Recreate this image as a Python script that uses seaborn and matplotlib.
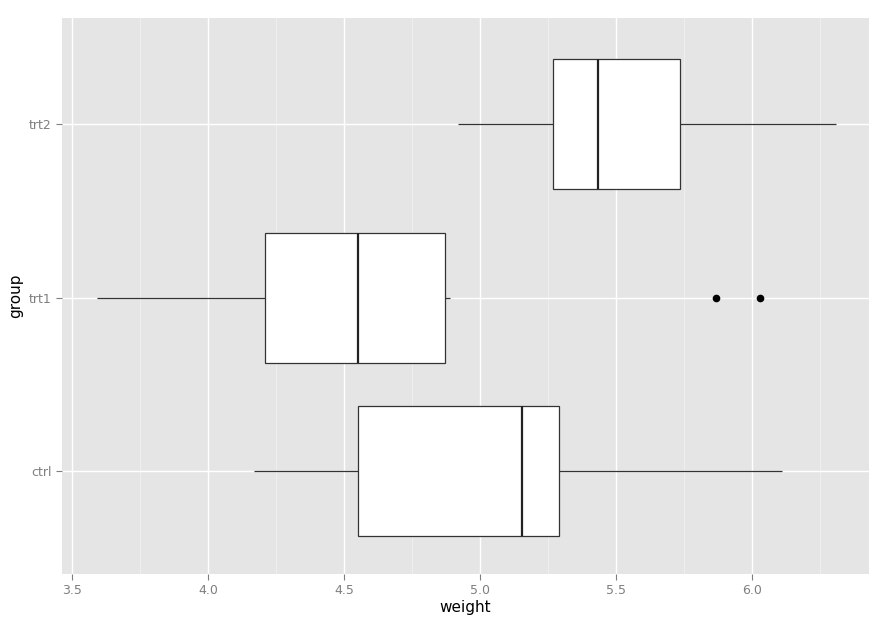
import numpy as np
import pandas as pd
import seaborn as sns
import matplotlib.pyplot as plt
from matplotlib.ticker import MultipleLocator

# PlantGrowth-like values
ctrl = [4.17, 5.58, 5.18, 6.11, 4.50, 4.61, 5.17, 4.53, 5.33, 5.14]
trt1 = [4.81, 4.17, 4.41, 3.59, 5.87, 3.83, 6.03, 4.89, 4.32, 4.69]
trt2 = [6.31, 5.12, 5.54, 5.50, 5.37, 5.29, 4.92, 6.15, 5.80, 5.26]
groups = ['trt2', 'trt1', 'ctrl']

df = pd.DataFrame({
    'weight': ctrl + trt1 + trt2,
    'group': ['ctrl'] * len(ctrl) + ['trt1'] * len(trt1) + ['trt2'] * len(trt2),
})

fig = plt.figure(figsize=(8.89, 6.29), dpi=100)
ax = fig.add_axes([0.07, 0.0874, 0.907, 0.8836])
ax.set_facecolor('#E5E5E5')

sns.boxplot(data=df, x='weight', y='group', order=groups, orient='h', width=0.75,
            color='white', linecolor='#333333', linewidth=0.9, whis=1.5,
            showcaps=False, medianprops={'linewidth': 1.6, 'color': '#222222'},
            flierprops={'marker': 'o', 'markersize': 4.5, 'markerfacecolor': 'black',
                        'markeredgecolor': 'black'},
            ax=ax, zorder=3)

ax.set_xlim(3.463, 6.43)
ax.set_ylim(2.594, -0.611)
ax.xaxis.set_major_locator(MultipleLocator(0.5))
ax.xaxis.set_minor_locator(MultipleLocator(0.25))
ax.grid(which='major', color='white', linewidth=1.0, zorder=0)
ax.grid(which='minor', axis='x', color='#F2F2F2', linewidth=0.5, zorder=0)
ax.set_axisbelow(True)
for s in ax.spines.values():
    s.set_visible(False)
ax.tick_params(which='major', colors='#7F7F7F', labelsize=9, length=4, width=0.8)
ax.tick_params(which='minor', length=0)
ax.set_xlabel('weight', fontsize=11, labelpad=2)
ax.set_ylabel('group', fontsize=11, labelpad=4)

fig.savefig('out.png', dpi=100, facecolor='white')
